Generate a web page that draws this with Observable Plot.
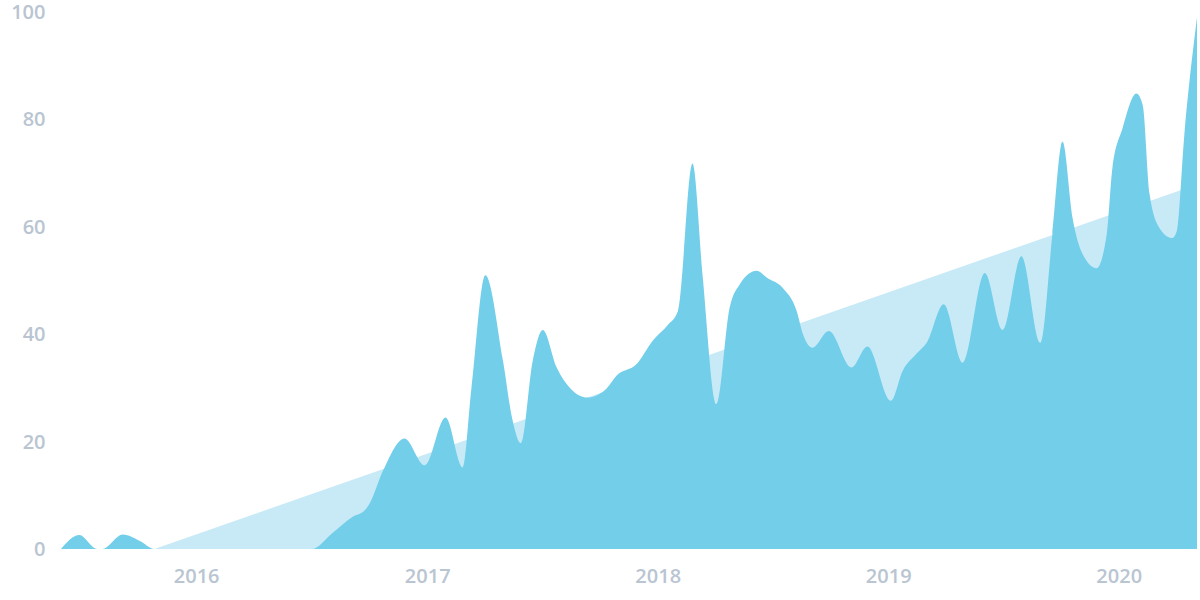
<!DOCTYPE html>
<html>
<head>
<meta charset="utf-8">
<script src="https://cdn.jsdelivr.net/npm/d3@7"></script>
<script src="https://cdn.jsdelivr.net/npm/@observablehq/plot@0.6"></script>
<style>
  html, body { margin: 0; padding: 0; background: #ffffff; }
  #chart { width: 1200px; height: 600px; }
</style>
</head>
<body>
<div id="chart"></div>
<script>
// ---- data ----
const activityDates = [
  "2015-06-01","2015-06-30","2015-07-28","2015-08-05","2015-09-07","2015-10-04","2015-10-27",
  "2016-07-02","2016-08-04","2016-09-05","2016-09-24","2016-10-02","2016-10-23","2016-11-26","2016-12-28",
  "2017-01-30","2017-02-26","2017-03-12","2017-04-03","2017-05-01","2017-05-16","2017-05-29","2017-06-17",
  "2017-07-03","2017-07-25","2017-08-15","2017-09-12","2017-10-12","2017-10-28","2017-11-29","2017-12-24",
  "2018-01-17","2018-02-02","2018-02-25","2018-03-13","2018-04-04","2018-04-25","2018-05-11","2018-06-07",
  "2018-06-23","2018-07-18","2018-08-09","2018-08-19","2018-09-03","2018-09-29","2018-11-04","2018-11-29",
  "2019-01-05","2019-01-24","2019-02-15","2019-03-03","2019-03-30","2019-04-29","2019-06-03","2019-07-01",
  "2019-07-31","2019-08-30","2019-09-18","2019-10-04","2019-10-20","2019-11-05","2019-11-27","2019-12-13",
  "2019-12-22","2020-01-07","2020-01-29","2020-02-08","2020-02-19","2020-03-06","2020-03-26","2020-04-02",
  "2020-04-14","2020-05-04"
];
const activityValues = [
  0, 2.6, 0, 0, 2.7, 1.5, 0,
  0, 3, 6, 7.2, 8.5, 14.6, 20.6, 15.6,
  24.5, 15.2, 30, 51, 35, 24, 19.7, 35,
  40.8, 33.8, 30, 28.2, 29.9, 32.3, 34.5, 38.8,
  41.7, 44.3, 71.8, 51, 27, 45, 49.3, 51.8,
  50.5, 48.6, 44.3, 40, 37.5, 40.6, 33.8, 37.7,
  27.6, 33.2, 36.4, 38.4, 45.6, 34.7, 51.4, 40.8,
  54.5, 38.4, 58.6, 75.9, 61.6, 54.9, 52.3, 58.6,
  70.9, 78.3, 84.8, 82.7, 66, 59.7, 57.9, 59.2,
  77.2, 99
];
const trendDates = ["2015-10-27", "2020-05-04"];
const trendValues = [0, 67.9];
const yTicks = [0, 20, 40, 60, 80, 100];
const xTickYears = [2016, 2017, 2018, 2019, 2020];
const xDomain = ["2015-06-01", "2020-05-04"];

// ---- tables for the library ----
const activity = activityDates.map((d, i) => ({date: new Date(d + "T00:00:00Z"), value: activityValues[i]}));
const trend = trendDates.map((d, i) => ({date: new Date(d + "T00:00:00Z"), value: trendValues[i]}));

const chart = Plot.plot({
  width: 1200,
  height: 600,
  marginLeft: 61,
  marginRight: 3,
  marginTop: 12,
  marginBottom: 51,
  style: {
    fontFamily: "'Open Sans', sans-serif",
    fontSize: "20px",
    fontWeight: 600,
    color: "#b9c5d1",
    background: "#ffffff",
    overflow: "visible"
  },
  x: {
    type: "utc",
    domain: xDomain.map(d => new Date(d + "T00:00:00Z")),
    ticks: xTickYears.map(y => new Date(Date.UTC(y, 0, 1))),
    tickFormat: d3.utcFormat("%Y"),
    tickSize: 0,
    tickPadding: 19,
    label: null
  },
  y: {
    domain: [0, 100],
    ticks: yTicks,
    tickSize: 0,
    tickPadding: 16,
    label: null
  },
  marks: [
    Plot.areaY(trend, {x: "date", y: "value", fill: "#c8eaf7"}),
    Plot.areaY(activity, {x: "date", y: "value", curve: "monotone-x", fill: "#72cee9"})
  ]
});
document.getElementById("chart").appendChild(chart);
</script>
</body>
</html>
